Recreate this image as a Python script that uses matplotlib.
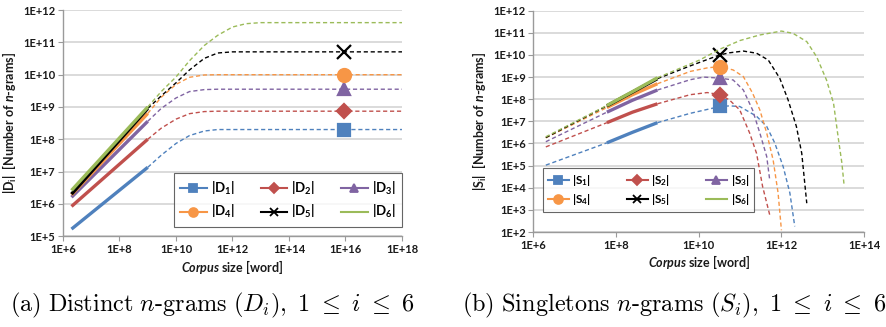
import numpy as np
import matplotlib
matplotlib.use("Agg")
import matplotlib.pyplot as plt
from matplotlib.lines import Line2D

plt.rcParams["font.family"] = ["Lato", "DejaVu Sans"]
plt.rcParams["font.weight"] = "bold"
plt.rcParams["mathtext.fontset"] = "custom"
plt.rcParams["mathtext.rm"] = "Lato:bold"
plt.rcParams["mathtext.it"] = "Lato:bold:italic"
plt.rcParams["mathtext.bf"] = "Lato:bold"

# ── DATA: distinct n-grams |D_i| ───────────────────────────
d_x_solid = [2e6, 1e9]
d1_solid = [1.65e5, 1.35e7]
d2_solid = [8.3e5, 1.0e8]
d3_solid = [1.6e6, 3.6e8]
d4_solid = [1.9e6, 6.3e8]
d5_solid = [2.0e6, 9.0e8]
d6_solid = [2.6e6, 1.0e9]

d_x_dash = [1e9, 3e9, 1e10, 3e10, 1e11, 3e11, 1e12, 3e12, 1e13, 1e18]
d1_dash = [1.35e7, 3.2e7, 7.4e7, 1.3e8, 1.8e8, 2.0e8, 2.0e8, 2.0e8, 2.0e8, 2.0e8]
d2_dash = [1.0e8, 2.2e8, 4.2e8, 6.2e8, 7.2e8, 7.4e8, 7.4e8, 7.4e8, 7.4e8, 7.4e8]
d3_dash = [3.6e8, 9.0e8, 1.9e9, 3.0e9, 3.45e9, 3.55e9, 3.55e9, 3.55e9, 3.55e9, 3.55e9]
d4_dash = [6.3e8, 2.0e9, 5.0e9, 8.3e9, 9.8e9, 1.0e10, 1.0e10, 1.0e10, 1.0e10, 1.0e10]
d5_dash = [9.0e8, 2.2e9, 5.6e9, 1.4e10, 3.2e10, 4.7e10, 5.1e10, 5.1e10, 5.1e10, 5.1e10]
d6_dash = [1.0e9, 3.0e9, 8.5e9, 2.7e10, 8.0e10, 1.66e11, 3.0e11, 3.8e11, 4.1e11, 4.1e11]

d_mark_x = 9e15
d_mark_y = [2.0e8, 7.4e8, 3.55e9, 1.0e10, 5.1e10, None]

# ── DATA: singleton n-grams |S_i| ──────────────────────────
s_x_head = [2e6, 6e7]
s_x_solid = [6e7, 2.5e8, 1e9]
s1_head, s1_solid = [1.05e5, 1.07e6], [1.07e6, 3.2e6, 8.7e6]
s2_head, s2_solid = [7.0e5, 8.7e6], [8.7e6, 2.6e7, 6.2e7]
s3_head, s3_solid = [1.2e6, 2.6e7], [2.6e7, 9.0e7, 2.6e8]
s4_head, s4_solid = [1.8e6, 4.2e7], [4.2e7, 1.6e8, 5.0e8]
s5_head, s5_solid = [1.85e6, 5.0e7], [5.0e7, 2.1e8, 8.5e8]
s6_head, s6_solid = [2.0e6, 5.2e7], [5.2e7, 2.2e8, 9.3e8]

s1_tail_x = [1e9, 6.2e9, 3.3e10, 5.6e10, 9.8e10, 2.5e11, 4.4e11, 6.9e11, 1.1e12, 1.6e12, 2.1e12]
s1_tail_y = [8.7e6, 2.3e7, 4.7e7, 5.0e7, 4.7e7, 1.7e7, 5.9e6, 1.05e6, 9.1e4, 5.8e3, 1.8e2]
s2_tail_x = [1e9, 6.2e9, 1.6e10, 3.3e10, 5.5e10, 9.8e10, 1.7e11, 2.5e11, 3.5e11, 5.2e11]
s2_tail_y = [6.2e7, 1.6e8, 2.0e8, 1.6e8, 9.3e7, 3.3e7, 3.0e6, 3.6e5, 1.15e4, 6.0e2]
s3_tail_x = [1e9, 6.2e9, 1.3e10, 3.2e10, 6.8e10, 1.2e11, 2.0e11, 3.0e11, 4.4e11, 5.2e11]
s3_tail_y = [2.6e8, 7.6e8, 1.0e9, 9.0e8, 7.4e8, 2.6e8, 3.3e7, 3.0e6, 2.6e5, 2.3e4]
s4_tail_x = [1e9, 6.2e9, 1.6e10, 3.2e10, 6.8e10, 1.2e11, 2.0e11, 3.0e11, 4.4e11, 6.3e11, 8.3e11, 1.0e12]
s4_tail_y = [5.0e8, 1.8e9, 2.6e9, 3.0e9, 2.1e9, 1.05e9, 1.9e8, 3.3e7, 3.0e6, 1.8e5, 5.8e3, 1.2e2]
s5_tail_x = [1e9, 6.2e9, 3.2e10, 5.5e10, 1.2e11, 2.5e11, 4.8e11, 9.1e11, 1.45e12, 2.3e12, 3.1e12, 4.1e12]
s5_tail_y = [8.5e8, 3.2e9, 1.0e10, 1.25e10, 1.5e10, 1.2e10, 5.9e9, 8.9e8, 9.3e7, 5.9e6, 3.6e5, 2.0e3]
s6_tail_x = [1e9, 1.05e10, 3.2e10, 1.0e11, 3.0e11, 1.0e12, 1.9e12, 4.1e12, 7.1e12, 1.23e13, 1.82e13, 2.4e13, 2.9e13, 3.3e13]
s6_tail_y = [9.3e8, 5.9e9, 1.8e10, 4.5e10, 8.0e10, 1.2e11, 9.5e10, 4.0e10, 8.3e9, 7.4e8, 6.6e7, 1.5e6, 1.3e5, 1.15e4]

s_mark_x = 3.3e10
s_mark_y = [4.7e7, 1.6e8, 9.0e8, 3.0e9, 1.0e10, None]

# ── STYLE ──────────────────────────────────────────────────
COLORS = ["#4F81BD", "#C0504D", "#8064A2", "#F79646", "#000000", "#9BBB59"]
MARKERS = ["s", "D", "^", "o", "x", None]
MSIZE = [7, 5.5, 7, 7.5, 7.5, 0]
DASH = (0, (3, 2))
GRID = "#D4D4D4"
AXC = "#9A9A9A"
TXT = "#1a1a1a"


def style_axes(ax, xlim, ylim, xexp, yexp, fs):
    ax.set_xscale("log")
    ax.set_yscale("log")
    ax.set_xlim(*xlim)
    ax.set_ylim(*ylim)
    ax.set_xticks([10.0 ** e for e in xexp])
    ax.set_xticklabels([f"1E+{e}" for e in xexp], fontweight="bold", color=TXT)
    ax.set_yticks([10.0 ** e for e in yexp])
    ax.set_yticklabels([f"1E+{e}" for e in yexp], fontweight="bold", color=TXT)
    ax.minorticks_off()
    ax.tick_params(labelsize=fs, length=3.5, width=0.8, color=AXC, pad=2)
    for side in ["top", "right"]:
        ax.spines[side].set_visible(False)
    for side in ["left", "bottom"]:
        ax.spines[side].set_color(AXC)
        ax.spines[side].set_linewidth(1.0)
    ax.grid(True, axis="y", color=GRID, linewidth=1.2)
    ax.set_axisbelow(True)


def legend_handles():
    return [Line2D([], [], color=COLORS[i], lw=1.5, marker=MARKERS[i],
                   markersize=MSIZE[i] * 0.85, markeredgewidth=1.3)
            for i in range(6)]


fig = plt.figure(figsize=(8.86, 3.27), dpi=100)

# ── (a) distinct ───────────────────────────────────────────
ax1 = fig.add_axes([0.0711, 0.278, 0.3826, 0.691])
style_axes(ax1, (1e6, 1e18), (1e5, 1e12), range(6, 19, 2), range(5, 13), 8)
d_solid = [d1_solid, d2_solid, d3_solid, d4_solid, d5_solid, d6_solid]
d_dash = [d1_dash, d2_dash, d3_dash, d4_dash, d5_dash, d6_dash]
for i in range(6):
    ax1.plot(d_x_dash, d_dash[i], color=COLORS[i], lw=1.0, ls=DASH)
    ax1.plot(d_x_solid, d_solid[i], color=COLORS[i], lw=2.4, solid_capstyle="butt")
    if d_mark_y[i] is not None:
        ax1.plot([d_mark_x], [d_mark_y[i]], color=COLORS[i], marker=MARKERS[i],
                 markersize=MSIZE[i] * 1.25, markeredgewidth=1.6, ls="none")
ax1.set_ylabel(r"|D$_\mathregular{i}$|  [Number of $n$-grams]", fontsize=9,
               labelpad=3, fontweight="bold", color=TXT)
ax1.set_xlabel(r"$Corpus$ size [word]", fontsize=9, labelpad=2,
               fontweight="bold", color=TXT)

h = legend_handles()
order = [0, 3, 1, 4, 2, 5]
lab_d = [rf"|D$_{i + 1}$|" for i in range(6)]
leg1 = ax1.legend([h[k] for k in order], [lab_d[k] for k in order], ncol=3,
                  loc="lower right", bbox_to_anchor=(1.0, 0.04), fontsize=9.5,
                  frameon=True, fancybox=False, edgecolor="#404040",
                  handlelength=2.0, handletextpad=0.3, columnspacing=2.0,
                  borderpad=0.5, labelspacing=0.5, borderaxespad=0)
leg1.get_frame().set_linewidth(0.8)

# ── (b) singletons ─────────────────────────────────────────
ax2 = fig.add_axes([0.602, 0.2905, 0.3733, 0.6768])
style_axes(ax2, (1e6, 1e14), (1e2, 1e12), range(6, 15, 2), range(2, 13), 8)
s_head = [s1_head, s2_head, s3_head, s4_head, s5_head, s6_head]
s_solid = [s1_solid, s2_solid, s3_solid, s4_solid, s5_solid, s6_solid]
s_tail = [(s1_tail_x, s1_tail_y), (s2_tail_x, s2_tail_y), (s3_tail_x, s3_tail_y),
          (s4_tail_x, s4_tail_y), (s5_tail_x, s5_tail_y), (s6_tail_x, s6_tail_y)]
for i in range(6):
    ax2.plot(s_x_head, s_head[i], color=COLORS[i], lw=1.0, ls=DASH)
    ax2.plot(s_tail[i][0], s_tail[i][1], color=COLORS[i], lw=1.0, ls=DASH)
    ax2.plot(s_x_solid, s_solid[i], color=COLORS[i], lw=2.4, solid_capstyle="butt")
    if s_mark_y[i] is not None:
        ax2.plot([s_mark_x], [s_mark_y[i]], color=COLORS[i], marker=MARKERS[i],
                 markersize=MSIZE[i] * 1.25, markeredgewidth=1.6, ls="none")
ax2.set_ylabel(r"|S$_\mathregular{i}$|  [Number of $n$-grams]", fontsize=9,
               labelpad=3, fontweight="bold", color=TXT)
ax2.set_xlabel(r"$Corpus$ size [word]", fontsize=9, labelpad=2,
               fontweight="bold", color=TXT)

lab_s = [rf"|S$_{i + 1}$|" for i in range(6)]
leg2 = ax2.legend([h[k] for k in order], [lab_s[k] for k in order], ncol=3,
                  loc="upper left", bbox_to_anchor=(0.029, 0.289), fontsize=8.5,
                  frameon=True, fancybox=False, edgecolor="#404040",
                  handlelength=1.8, handletextpad=0.3, columnspacing=3.0,
                  borderpad=0.4, labelspacing=0.35, borderaxespad=0)
leg2.get_frame().set_linewidth(0.8)

# ── captions ───────────────────────────────────────────────
fig.text(0.011, 0.067, r"$\mathrm{(a)\ Distinct\ }n\mathrm{\text{-}grams\ }(D_i),\ 1\ \leq\ i\ \leq\ 6$",
         fontsize=17.5, math_fontfamily="cm", ha="left", va="center")
fig.text(0.521, 0.067, r"$\mathrm{(b)\ Singletons\ }n\mathrm{\text{-}grams\ }(S_i),\ 1\ \leq\ i\ \leq\ 6$",
         fontsize=17.5, math_fontfamily="cm", ha="left", va="center")

fig.savefig("out.png", dpi=100)
